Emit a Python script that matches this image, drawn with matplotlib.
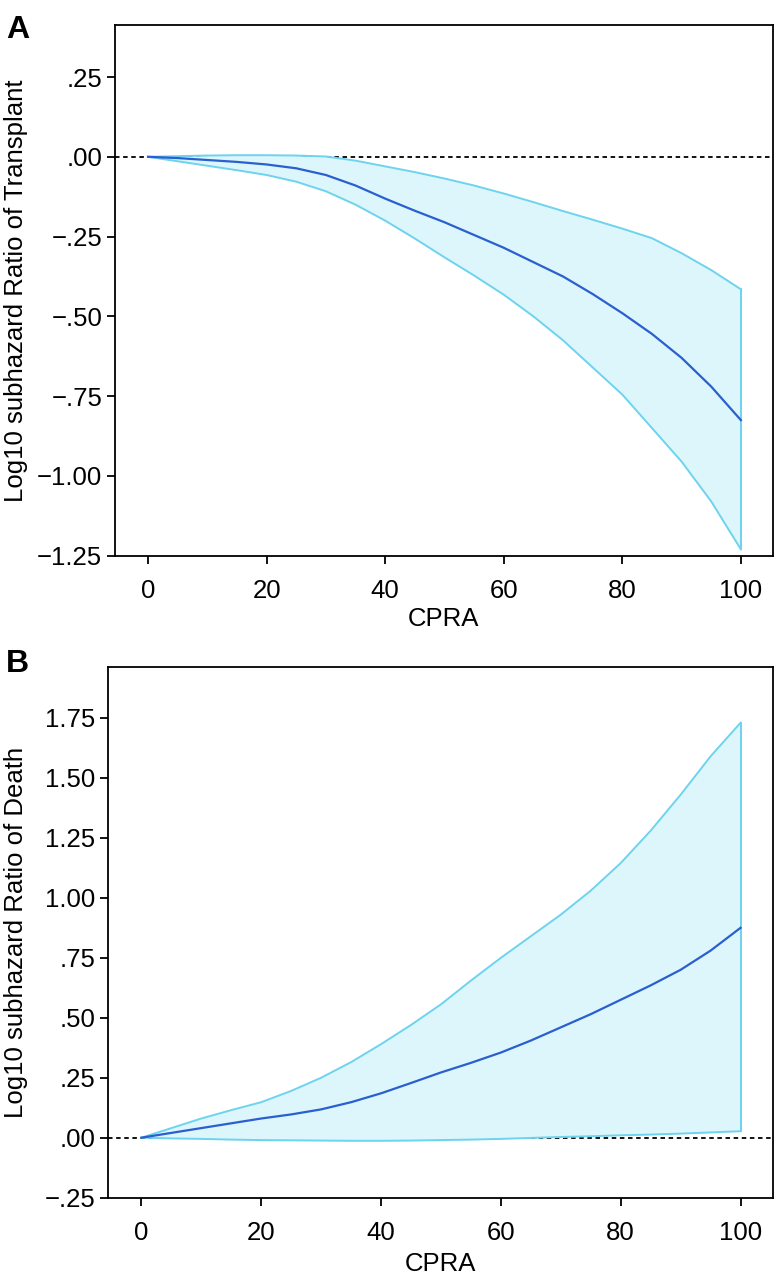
import numpy as np
import matplotlib
matplotlib.use("Agg")
import matplotlib.pyplot as plt

#*************** data ***************
cpra = list(range(0, 101, 5))

est_a = [0, -0.004, -0.010, -0.016, -0.024, -0.036, -0.057, -0.090, -0.131, -0.169, -0.205,
         -0.245, -0.285, -0.330, -0.375, -0.430, -0.490, -0.555, -0.630, -0.720, -0.825]
upper_a = [0, 0.002, 0.004, 0.005, 0.005, 0.004, 0.001, -0.012, -0.030, -0.048, -0.068,
           -0.090, -0.115, -0.142, -0.170, -0.197, -0.225, -0.255, -0.302, -0.355, -0.415]
lower_a = [0, -0.014, -0.028, -0.042, -0.057, -0.078, -0.108, -0.150, -0.200, -0.256, -0.315,
           -0.372, -0.432, -0.500, -0.575, -0.660, -0.745, -0.850, -0.955, -1.080, -1.230]

est_b = [0, 0.020, 0.040, 0.060, 0.080, 0.097, 0.118, 0.148, 0.185, 0.228, 0.272,
         0.312, 0.355, 0.405, 0.460, 0.515, 0.575, 0.635, 0.700, 0.780, 0.875]
upper_b = [0, 0.040, 0.080, 0.115, 0.148, 0.195, 0.250, 0.315, 0.390, 0.470, 0.556,
           0.655, 0.750, 0.840, 0.930, 1.030, 1.145, 1.280, 1.430, 1.590, 1.730]
lower_b = [0, -0.003, -0.005, -0.008, -0.010, -0.011, -0.012, -0.013, -0.013, -0.012, -0.010,
           -0.008, -0.005, -0.001, 0.003, 0.006, 0.010, 0.013, 0.017, 0.022, 0.027]

xticks = [0, 20, 40, 60, 80, 100]
yticks_a = [0.25, 0.0, -0.25, -0.5, -0.75, -1.0, -1.25]
yticks_b = [-0.25, 0.0, 0.25, 0.5, 0.75, 1.0, 1.25, 1.5, 1.75]

FILL = "#dcf6fc"
CI = "#6dd3ee"
EST = "#2a5fcf"

plt.rcParams["font.family"] = ["Liberation Sans", "DejaVu Sans"]
plt.rcParams["font.size"] = 18.5


def fmt(v):
    s = f"{abs(v):.2f}"
    if s.startswith("0"):
        s = s[1:]
    return ("\u2212" + s) if v < 0 else s


def panel(ax, x, est, lo, hi, yticks, ylim, ylabel):
    x = np.array(x)
    ax.fill_between(x, lo, hi, color=FILL, lw=0)
    ax.plot(x, hi, color=CI, lw=1.4)
    ax.plot(x, lo, color=CI, lw=1.4)
    ax.plot([x[-1], x[-1]], [lo[-1], hi[-1]], color=CI, lw=1.4)
    ax.plot(x, est, color=EST, lw=1.6)
    ax.axhline(0, color="black", lw=1.3, ls=(0, (2.5, 2)), zorder=0.5)
    ax.set_xlim(-5.6, 105.4)
    ax.set_ylim(*ylim)
    ax.set_xticks(xticks)
    ax.set_yticks(yticks)
    ax.set_yticklabels([fmt(v) for v in yticks])
    ax.tick_params(axis="x", direction="out", length=6, width=1.3, pad=11)
    ax.tick_params(axis="y", direction="out", length=6, width=1.3, pad=3)
    for sp in ax.spines.values():
        sp.set_linewidth(1.3)
    ax.set_ylabel(ylabel)
    ax.set_xlabel("CPRA")


fig = plt.figure(figsize=(7.76, 12.82), dpi=100)
axA = fig.add_axes([0.148, 0.5665, 0.848, 0.414])
axB = fig.add_axes([0.139, 0.0658, 0.857, 0.4142])

panel(axA, cpra, est_a, lower_a, upper_a, yticks_a, (-1.25, 0.413),
      "Log10 subhazard Ratio of Transplant")
panel(axB, cpra, est_b, lower_b, upper_b, yticks_b, (-0.25, 1.964),
      "Log10 subhazard Ratio of Death")

axA.yaxis.set_label_coords(-0.132, 0.5)
axB.yaxis.set_label_coords(-0.120, 0.5)
axA.xaxis.set_label_coords(0.5, -0.097)
axB.xaxis.set_label_coords(0.5, -0.102)

fig.text(0.008, 0.988, "A", fontsize=23, fontweight="bold", va="top")
fig.text(0.008, 0.494, "B", fontsize=23, fontweight="bold", va="top")

fig.savefig("out.png", dpi=100)
